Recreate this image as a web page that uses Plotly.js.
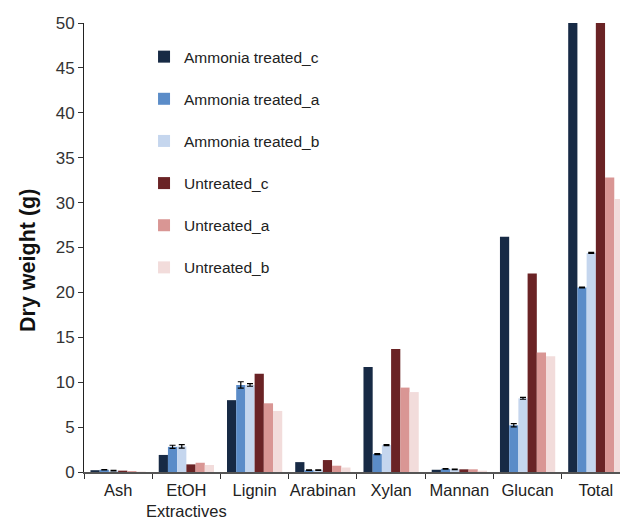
<!DOCTYPE html>
<html>
<head>
<meta charset="utf-8">
<script src="https://cdn.plot.ly/plotly-3.0.1.min.js"></script>
<style>html,body{margin:0;padding:0;overflow:hidden;background:#fff}#chart{width:620px;height:519px}</style>
</head>
<body>
<div id="chart"></div>
<script>
const categories = ["Ash", "EtOH<br>Extractives", "Lignin", "Arabinan", "Xylan", "Mannan", "Glucan", "Total"];
const seriesNames = ["Ammonia treated_c", "Ammonia treated_a", "Ammonia treated_b", "Untreated_c", "Untreated_a", "Untreated_b"];
const ammoniaC = [0.2, 1.9, 8.0, 1.1, 11.7, 0.25, 26.2, 52];
const ammoniaA = [0.25, 2.8, 9.7, 0.2, 2.0, 0.35, 5.2, 20.55];
const ammoniaB = [0.15, 2.85, 9.7, 0.2, 3.0, 0.3, 8.2, 24.4];
const untreatedC = [0.15, 0.85, 10.95, 1.33, 13.7, 0.3, 22.1, 52];
const untreatedA = [0.1, 1.03, 7.65, 0.7, 9.4, 0.3, 13.3, 32.8];
const untreatedB = [0.05, 0.78, 6.8, 0.5, 8.9, 0.15, 12.9, 30.4];
const errA = [0.03, 0.18, 0.35, 0.03, 0.06, 0.03, 0.18, 0.05];
const errB = [0.03, 0.2, 0.15, 0.03, 0.06, 0.03, 0.1, 0.05];
const yTitle = "Dry weight (g)";

const values = [ammoniaC, ammoniaA, ammoniaB, untreatedC, untreatedA, untreatedB];
const errors = [null, errA, errB, null, null, null];
const colors = ["#172a45", "#5b8cc8", "#c5d6ee", "#6a2325", "#d99694", "#f2dcdb"];

const traces = values.map((v, i) => {
  const t = {
    type: "bar",
    name: seriesNames[i],
    x: categories,
    y: v,
    legendgroup: "g" + i,
    marker: {color: colors[i], line: {width: 0}},
    cliponaxis: true
  };
  if (errors[i]) {
    t.error_y = {type: "data", array: errors[i], visible: true, color: "#000", thickness: 1.2, width: 3};
  }
  return t;
});

const layout = {
  width: 620, height: 519,
  margin: {l: 84, r: 0, t: 23, b: 47},
  paper_bgcolor: "#fff", plot_bgcolor: "#fff",
  barmode: "group",
  bargap: 0.19, bargroupgap: 0,
  font: {family: "Liberation Sans, Arial, sans-serif", color: "#222"},
  xaxis: {
    type: "category",
    range: [-0.5, 7.354],
    tickson: "boundaries",
    tickangle: 0,
    ticks: "outside", ticklen: 5, tickcolor: "#333", tickwidth: 1,
    ticklabelstandoff: 2,
    showline: true, linecolor: "#555", linewidth: 2,
    tickfont: {size: 16.5, color: "#222"},
    showgrid: false, zeroline: false, fixedrange: true
  },
  yaxis: {
    range: [0, 50],
    tickvals: [0, 5, 10, 15, 20, 25, 30, 35, 40, 45, 50],
    ticks: "outside", ticklen: 5, tickcolor: "#333",
    showline: true, linecolor: "#222", linewidth: 1, mirror: true,
    tickfont: {size: 17, color: "#333"},
    showgrid: false, zeroline: false
  },
  annotations: [{
    text: yTitle, textangle: -90, showarrow: false,
    xref: "paper", yref: "paper", x: 0, y: 0.47,
    xanchor: "center", yanchor: "middle", xshift: -56,
    font: {size: 21.5, color: "#111", family: "Liberation Sans, Arial, sans-serif", weight: "bold"}
  }],
  legend: {
    x: 0.112, y: 0.962, xanchor: "left", yanchor: "top",
    bgcolor: "rgba(0,0,0,0)",
    font: {size: 15.5, color: "#222"},
    tracegroupgap: 19,
    itemwidth: 30
  },
  showlegend: true
};

Plotly.newPlot("chart", traces, layout, {displayModeBar: false, staticPlot: true});
</script>
</body>
</html>
